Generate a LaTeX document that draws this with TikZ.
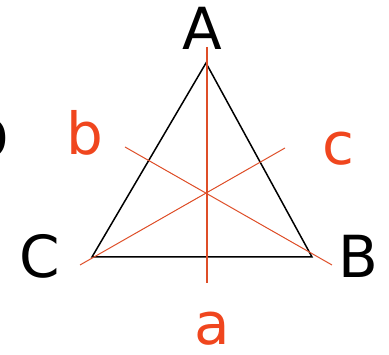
\documentclass[tikz,border=0pt]{standalone}
\usepackage{fontspec}
\setmainfont{DejaVu Sans}
\usetikzlibrary{calc}
\definecolor{medred}{RGB}{222,78,40}
\definecolor{labred}{RGB}{240,70,30}
\tikzset{
  side/.style={line width=1.5pt,black},
  median/.style={line width=1pt,medred},
  vlabel/.style={inner sep=0pt,anchor=base,font=\fontsize{58}{70}\selectfont},
  mlabel/.style={vlabel,text=labred}
}

\begin{document}
\begin{tikzpicture}[x=1pt,y=1pt]
    \useasboundingbox (0,0) rectangle (389,355);
    \coordinate (A) at (206,292);
    \coordinate (B) at (312,98);
    \coordinate (C) at (92,98);
    % ends of the red lines
    \coordinate (aT) at (207,308);\coordinate (aB) at (207,72);
    \coordinate (bS) at (332,90);\coordinate (bE) at (125,208);
    \coordinate (cS) at (80,90);\coordinate (cE) at (285,207);
    \draw[side] (A) -- (B) -- (C) -- cycle;
    \draw[median,line width=1.5pt] (aT) -- (aB);
    \draw[median] (bS) -- (bE);
    \draw[median] (cS) -- (cE);
    \node[vlabel] (lA) at (202,305) {A};
    \node[vlabel] (lB) at (358,77) {B};
    \node[vlabel] (lC) at (40,77) {C};
    \node[vlabel,anchor=base east] (lD) at (9,195) {D};
    \node[mlabel] (la) at (212,10) {a};
    \node[mlabel] (lb) at (85,200) {b};
    \node[mlabel] (lc) at (338,190) {c};
  \end{tikzpicture}
\end{document}
